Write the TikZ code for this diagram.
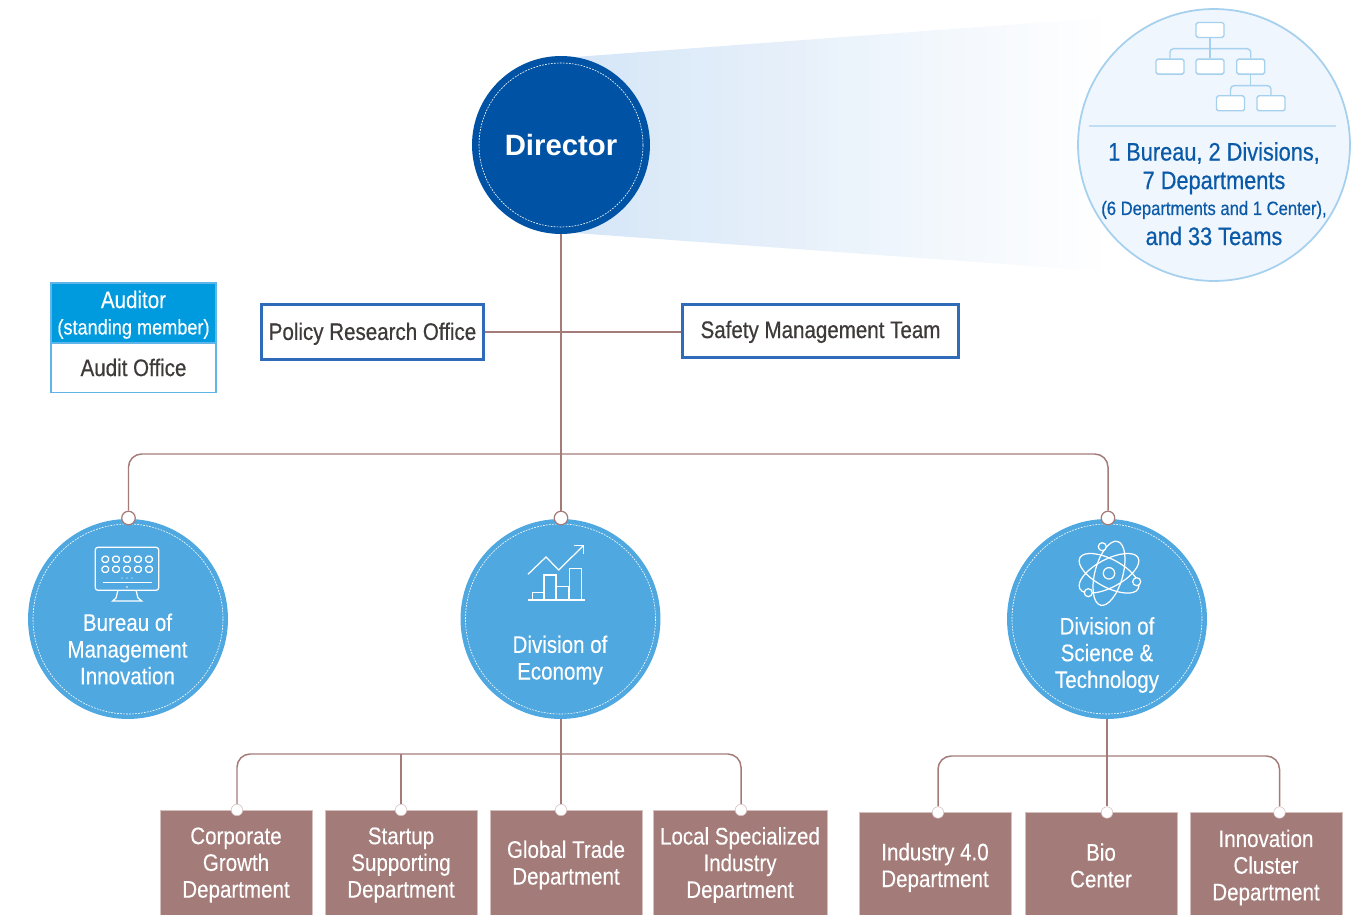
\documentclass[tikz,border=0pt]{standalone}
\usepackage{fontspec}
\setmainfont[FakeStretch=0.86,FakeBold=0.25]{Liberation Sans}
\newfontfamily\dirfont{Liberation Sans}
\newfontfamily\heavyfont[FakeStretch=0.86,FakeBold=0.5]{Liberation Sans}
\usepackage{tikz}
\definecolor{node_dir}{RGB}{0,82,164}
\definecolor{node_div}{RGB}{79,168,224}
\definecolor{node_dept}{RGB}{163,123,120}
\definecolor{edge_dept}{RGB}{213,192,190}
\definecolor{edge_line}{RGB}{163,123,120}
\definecolor{edge_blue}{RGB}{47,107,184}
\definecolor{node_aud}{RGB}{0,154,222}
\definecolor{edge_aud}{RGB}{95,181,232}
\definecolor{fan_blue}{RGB}{214,230,247}
\definecolor{note_fill}{RGB}{240,246,253}
\definecolor{note_edge}{RGB}{165,208,238}
\definecolor{note_text}{RGB}{10,90,168}
\definecolor{text_dark}{RGB}{62,58,57}

\begin{document}
\begin{tikzpicture}[x=0.02cm,y=-0.02cm]
    \tikzstyle{txt}=[font=\fontsize{13.6}{15.2}\selectfont,align=center,inner sep=0pt]
    \tikzstyle{heavy}=[font=\heavyfont\fontsize{13.6}{15.2}\selectfont,align=center,inner sep=0pt]
    \tikzstyle{link}=[draw=edge_line,line width=0.85pt]
    \tikzstyle{bigdisc}=[circle,fill=node_dir,minimum size=3.56cm,inner sep=0pt,outer sep=0pt]
    \tikzstyle{disc}=[circle,fill=node_div,minimum size=4cm,inner sep=0pt,outer sep=0pt]
    \tikzstyle{ring}=[draw=white,line width=0.35pt,dash pattern=on 1pt off 0.7pt]
    \tikzstyle{office}=[heavy,draw=edge_blue,line width=1.7pt,fill=white,text=text_dark,text depth=0pt]
    \tikzstyle{dept}=[txt,draw=edge_dept,line width=0.5pt,fill=node_dept,text=white,minimum width=3.04cm,minimum height=2.2cm]
    \tikzstyle{dot}=[circle,draw=edge_line,line width=0.7pt,fill=white,minimum size=0.27cm,inner sep=0pt]
    \tikzstyle{deptdot}=[circle,draw=edge_dept,line width=0.3pt,fill=white,minimum size=0.23cm,inner sep=0pt]
    \tikzstyle{icon}=[draw=white,line width=0.7pt]
    \tikzstyle{orgbox}=[draw=note_edge,line width=0.8pt,fill=white,rounded corners=1pt,minimum width=0.56cm,minimum height=0.3cm,inner sep=0pt]
    \tikzstyle{note}=[heavy,text=note_text]

    \useasboundingbox (0,0) rectangle (1357,915);

    % fan behind the director
    \foreach \fx [evaluate=\fx as \fpct using 100-\fx*2] in {0,1,...,49}
      \fill[fan_blue!\fpct!white]
        (575+\fx*10.5,57-\fx*0.78) -- (575+\fx*10.5+11.5,57-\fx*0.78-0.85) --
        (575+\fx*10.5+11.5,233+\fx*0.76+0.85) -- (575+\fx*10.5,233+\fx*0.76) -- cycle;

    % top
    \node[bigdisc]  (Director) at (561,145) {\dirfont\bfseries\fontsize{16.7}{18}\selectfont\textcolor{white}{Director}};
    \draw[ring] (Director.center) circle[radius=82];

    \node[circle,draw=note_edge,line width=1pt,fill=note_fill,minimum size=5.44cm,inner sep=0pt] (Summary) at (1214,145) {};
    \draw[draw=note_edge!70,line width=0.6pt] (1089,126) -- (1336,126);
    \node[orgbox] (orgTop) at (1210,30) {};
    \node[orgbox] (orgA) at (1170,66.6) {};
    \node[orgbox] (orgB) at (1210,66.6) {};
    \node[orgbox] (orgC) at (1250.7,66.6) {};
    \node[orgbox] (orgD) at (1230.5,103.3) {};
    \node[orgbox] (orgE) at (1271,103.3) {};
    \coordinate (orgHubA) at (1210,48.7);
    \coordinate (orgHubB) at (1250.7,85.7);
    \draw[draw=note_edge,line width=0.8pt] (orgTop) -- (orgB);
    \draw[draw=note_edge,line width=0.8pt,rounded corners=2pt] (orgA) |- (orgHubA) -| (orgC);
    \draw[draw=note_edge,line width=0.8pt] (orgC) -- (orgHubB);
    \draw[draw=note_edge,line width=0.8pt,rounded corners=2pt] (orgD) |- (orgHubB) -| (orgE);

    \node[note,font=\heavyfont\fontsize{14.4}{15}\selectfont] (noteA) at (1214,153) {1 Bureau, 2 Divisions,};
    \node[note,font=\heavyfont\fontsize{14.4}{15}\selectfont] (noteB) at (1214,183) {7 Departments};
    \node[note,font=\heavyfont\fontsize{11}{13}\selectfont] (noteC) at (1214,210) {(6 Departments and 1 Center),};
    \node[note,font=\heavyfont\fontsize{14.4}{15}\selectfont] (noteD) at (1214,236) {and 33 Teams};

    % auditor
    \node[heavy,draw=edge_aud,line width=0.9pt,fill=white,text=text_dark,minimum width=3.3cm,minimum height=1cm] (AuditOffice) at (133.5,367.5) {Audit Office};
    \node[txt,draw=edge_aud,line width=0.9pt,fill=node_aud,text=white,minimum width=3.3cm,minimum height=1.2cm] (Auditor) at (133.5,313) {};
    \node[txt,text=white] (AuditorA) at (133.5,299.5) {Auditor};
    \node[txt,text=white,font=\fontsize{12}{13}\selectfont] (AuditorB) at (133.5,329) {(standing member)};

    % staff offices
    \node[office,minimum width=4.44cm,minimum height=1.1cm,text height=9pt] (Policy) at (372.5,332) {Policy Research Office};
    \node[office,minimum width=5.52cm,minimum height=1.06cm,text height=8pt] (Safety) at (820.5,331) {Safety Management Team};

    % divisions
    \node[disc] (Bureau)  at (128,619)  {};
    \node[disc] (Economy) at (560.5,619)  {};
    \node[disc] (Science) at (1107,619) {};
    \draw[ring] (Bureau.center) circle[radius=95];
    \draw[ring] (Economy.center) circle[radius=95];
    \draw[ring] (Science.center) circle[radius=95];
    \node[txt,text=white] (BureauText)  at (127.5,649)  {Bureau of\\Management\\Innovation};
    \node[txt,text=white] (EconomyText) at (560,660) {Division of\\Economy};
    \node[txt,text=white] (ScienceText) at (1107,655) {Division of\\Science \&\\Technology};

    % departments
    \node[dept] (Corporate) at (236,865) {Corporate\\Growth\\Department};
    \node[dept] (Startup)   at (401,865) {Startup\\Supporting\\Department};
    \node[dept] (Global)    at (566,865) {Global Trade\\Department};
    \node[dept,minimum width=3.48cm] (Local) at (740,865) {Local Specialized\\Industry\\Department};
    \node[dept] (Industry)  at (935,867.5) {Industry 4.0\\Department};
    \node[dept,minimum height=2.12cm] (Bio) at (1101,865.5) {Bio\\Center};
    \node[dept] (Cluster)   at (1266,867.5) {Innovation\\Cluster\\Department};

    % connectors
    \node[dot] (dotBureau)  at (128.5,518) {};
    \node[dot] (dotEconomy) at (561,518) {};
    \node[dot] (dotScience) at (1108,518) {};
    \node[deptdot] (dotCorporate) at (237,810) {};
    \node[deptdot] (dotStartup)   at (401,810) {};
    \node[deptdot] (dotGlobal)    at (561,810) {};
    \node[deptdot] (dotLocal)     at (741,810) {};
    \node[deptdot] (dotIndustry)  at (938,812.5) {};
    \node[deptdot] (dotBio)       at (1107,812.5) {};
    \node[deptdot] (dotCluster)   at (1279.5,812.5) {};
    \coordinate (hubTop) at (561,454);
    \coordinate (hubEconomy) at (561,754);
    \coordinate (hubStartup) at (401,754);
    \coordinate (hubScience) at (1107,756);
    \coordinate (hubStaff) at (561,332);

    \path[link]
     (Director) edge (dotEconomy)
     (Policy) edge (hubStaff)
     (hubStaff) edge (Safety.west |- hubStaff)
     (hubEconomy) edge (dotGlobal)
     (hubStartup) edge (dotStartup)
     (Science) edge (dotBio)
     (Economy.south -| hubEconomy) edge (hubEconomy);
    \draw[link,rounded corners=7.5pt] (dotBureau) |- (hubTop) -| (dotScience);
    \draw[link,rounded corners=7.5pt] (dotCorporate) |- (hubEconomy) -| (dotLocal);
    \draw[link,rounded corners=7.5pt] (dotIndustry) |- (hubScience) -| (dotCluster);

    % monitor icon
    \draw[icon,rounded corners=1.5pt] (95.3,547.3) rectangle (158.7,590.3);
    \foreach \kx in {105.3,116,127,138,149}
      \foreach \ky in {559.3,569.3}
        \draw[icon,rounded corners=1pt] (\kx-3.2,\ky-3) rectangle (\kx+3.2,\ky+3);
    \foreach \kx in {122,127,132}
      \fill[white] (\kx,578) circle[radius=0.7];
    \fill[white] (127,587) circle[radius=0.8];
    \draw[icon] (102.7,582.7) -- (152,582.7);
    \draw[icon] (118,590.3) -- (116,598) -- (112.7,601) -- (141.7,601) -- (138,598) -- (136,590.3);

    % chart icon
    \draw[icon] (528,574.3) -- (546,557) -- (558.7,570) -- (583.3,545.7);
    \draw[icon] (574,545.7) -- (583.3,545.7) -- (583.3,554);
    \draw[icon] (528.3,600) -- (585,600);
    \draw[icon] (532.3,600) rectangle (543.3,592.7);
    \draw[icon] (544,600) rectangle (556,575);
    \draw[icon] (556.7,600) rectangle (568.7,586.7);
    \draw[icon] (569.3,600) rectangle (581.7,568.7);

    % atom icon
    \draw[icon] (1109,573.3) ellipse[x radius=33,y radius=14,rotate=75];
    \draw[icon] (1109,573.3) ellipse[x radius=33,y radius=14,rotate=28];
    \draw[icon] (1109,573.3) ellipse[x radius=33,y radius=14,rotate=-28];
    \draw[icon] (1109,573.3) circle[radius=5.7];
    \draw[icon,fill=node_div] (1102.3,546.7) circle[radius=4];
    \draw[icon,fill=node_div] (1136.7,581.7) circle[radius=4];
    \draw[icon,fill=node_div] (1088.3,592.7) circle[radius=4];
\end{tikzpicture}
\end{document}
